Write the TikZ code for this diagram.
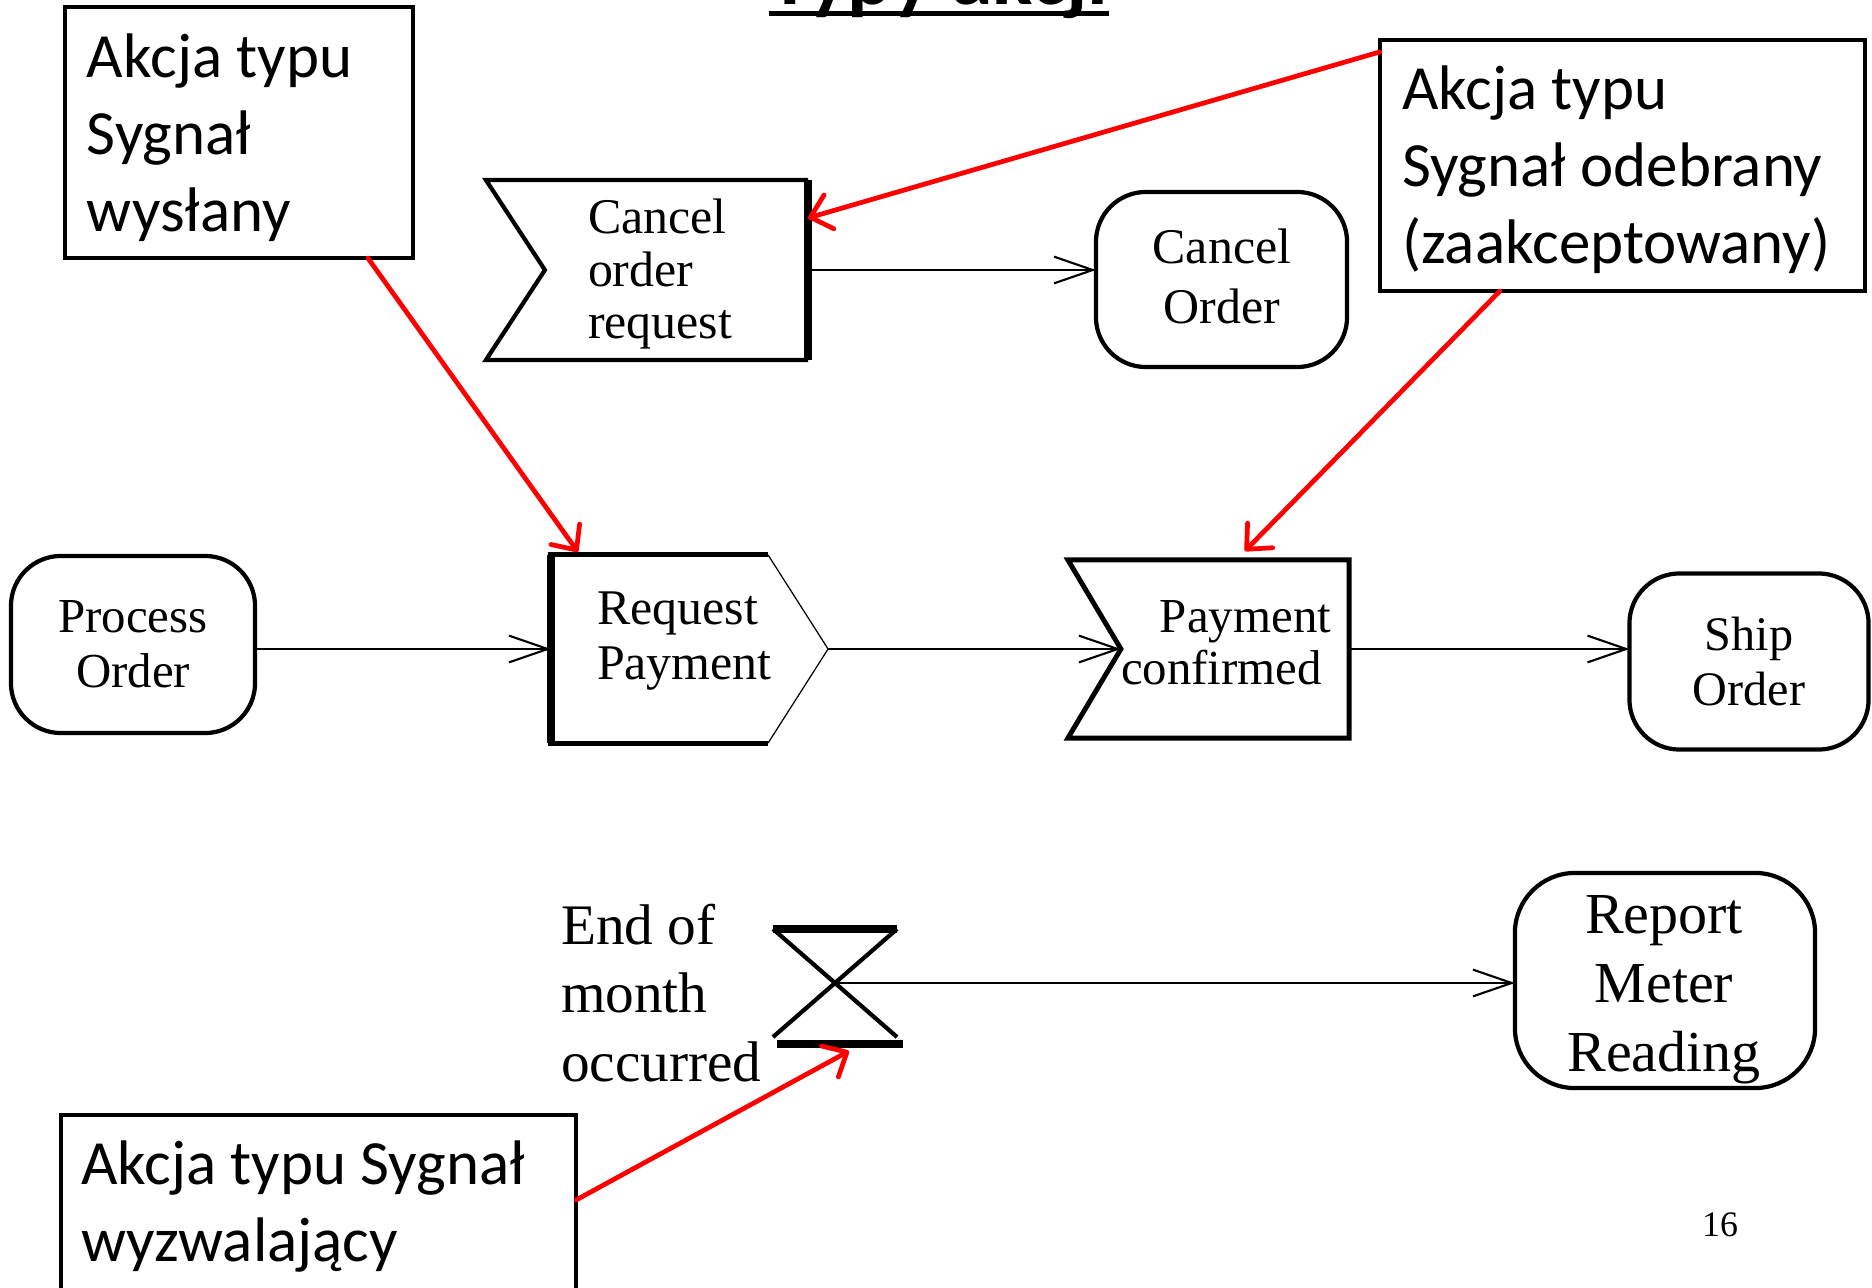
\documentclass[tikz,border=0pt]{standalone}
\usepackage{fontspec}
\setmainfont{Liberation Serif}
\newfontfamily\calib{Carlito}
\usetikzlibrary{arrows.meta,calc}
\lineskiplimit=-100pt

\begin{document}
\begin{tikzpicture}[x=0.01cm,y=-0.01cm,
  every node/.style={inner sep=0pt, outer sep=0pt},
  fs/.style 2 args={font=\fontsize{#1}{#2}\selectfont},
  act/.style={draw, line width=1.2pt, rounded corners=0.5cm, align=center},
  note/.style={draw, line width=1.3pt},
  notetext/.style={font=\calib\fontsize{17.9pt}{21.9pt}\selectfont, align=left, anchor=west},
  flow/.style={line width=0.5pt, -{Straight Barb[length=11pt,width=7.6pt,line width=0.6pt]}},
  hint/.style={draw=red, line width=1.35pt, line cap=round,
    -{Straight Barb[round,length=5.5pt,width=10pt,line width=1.35pt]}},
]
\useasboundingbox (0,0) rectangle (1872,1288);
\fill[white] (0,0) rectangle (1872,1288);

% slide title, cut by the upper edge
\begin{scope}
  \clip (0,0) rectangle (1872,1288);
  \node[font=\calib\bfseries\fontsize{23.9pt}{28pt}\selectfont, anchor=base west] (title) at (769,5) {Typy akcji};
  \draw[line width=1.42pt] ($(title.base west)+(0,9)$) -- ($(title.base east)+(0,9)$);
\end{scope}

% ---- top row: accept "Cancel order request" -> "Cancel Order"
\node[minimum width=3.22cm, minimum height=1.80cm] (cor) at (647,270) {};
\draw[line width=1.2pt] (cor.north east) -- (cor.north west) -- ($(cor.west)+(59,0)$) -- (cor.south west) -- (cor.south east);
\draw[line width=2.2pt] (cor.north east) -- (cor.south east);
\node[fs={14.2pt}{14.8pt}, align=left, anchor=west] (cortext) at (588,274) {Cancel\\order\\request};

\node[draw, line width=1.2pt, rounded corners=0.5cm, minimum width=2.51cm, minimum height=1.75cm] (co) at (1221.5,279.5) {};
\node[fs={14.2pt}{17.1pt}, align=center] (cotext) at (1222,276) {Cancel\\Order};
\draw[flow] (cor.east) -- (cor.east -| co.west);

% ---- middle row
\node[act, fs={13.9pt}{15.6pt}, minimum width=2.44cm, minimum height=1.77cm] (po) at (133,644.5) {Process\\Order};

\node[minimum width=2.77cm, minimum height=1.88cm] (rp) at (689.5,649) {};
\draw[line width=0.35pt] ($(rp.north east)+(-60,0)$) -- (rp.east) -- ($(rp.south east)+(-60,0)$);
\draw[line width=1.4pt] ($(rp.north east)+(-60,0)$) -- (rp.north west) -- (rp.south west) -- ($(rp.south east)+(-60,0)$);
\draw[line width=2.2pt] (rp.north west) -- (rp.south west);
\node[fs={14.2pt}{15.6pt}, align=left, anchor=west] (rptext) at (597,641) {Request\\Payment};

\node[minimum width=2.81cm, minimum height=1.78cm] (pc) at (1208.5,649) {};
\draw[line width=1.4pt] (pc.north west) -- (pc.north east) -- (pc.south east) -- (pc.south west) -- ($(pc.west)+(53,0)$) -- cycle;
\node[fs={13.9pt}{14.8pt}, align=right, anchor=east] (pctext) at (1331,642.8) {Payment\\confirmed\hbox to 0.09cm{}};

\node[act, fs={13.7pt}{15.4pt}, minimum width=2.39cm, minimum height=1.76cm] (so) at (1749,661.5) {Ship\\Order};

\draw[flow] (po.east |- rp.west) -- (rp.west);
\draw[flow] (rp.east) -- ($(pc.west)+(53,0)$);
\draw[flow] (pc.east) -- (pc.east -| so.west);

% ---- bottom row: time event
\node[minimum width=1.24cm, minimum height=1.08cm] (tm) at (835,983) {};
\draw[line width=1.2pt] (tm.north west) -- (tm.south east) (tm.north east) -- (tm.south west);
\draw[line width=2.4pt] (tm.north west) -- (tm.north east);
\draw[line width=2.4pt] ($(tm.south west)+(4,7)$) -- ($(tm.south east)+(6,7)$);
\node[fs={16.3pt}{19.5pt}, align=left, anchor=west] (tmtext) at (561,993) {End of\\month\\occurred};

\node[draw, line width=1.2pt, rounded corners=0.6cm, minimum width=3.00cm, minimum height=2.15cm] (rmr) at (1665,980.5) {};
\node[fs={16.5pt}{19.6pt}, align=center] (rmrtext) at (1664,990) {Report\\Meter\\Reading};
\draw[flow] (tm.center) -- (tm.center -| rmr.west);

% ---- callouts
\node[note, minimum width=3.48cm, minimum height=2.51cm] (w1) at (239,132.5) {};
\node[notetext] (w1text) at (87,137.3) {Akcja typu\\Sygnał\\wysłany};
\node[note, minimum width=4.85cm, minimum height=2.51cm] (w2) at (1622.5,165.5) {};
\node[notetext] (w2text) at (1402,169.8) {Akcja typu\\Sygnał odebrany\\(zaakceptowany)};
\node[note, minimum width=5.15cm, minimum height=1.85cm] (w3) at (318.5,1207.5) {};
\node[notetext] (w3text) at (81,1206.8) {Akcja typu Sygnał\\wyzwalający};

\draw[hint] ($(w1.south west)+(303,0)$) -- ($(rp.north west)+(27,-3)$);
\draw[hint] ($(w2.north west)+(0,12)$) -- ($(cor.north east)+(0,38)$);
\draw[hint] ($(w2.south west)+(120,0)$) -- ($(pc.north west)+(177,-9)$);
\draw[hint] ($(w3.north east)+(0,85)$) -- ($(tm.south)+(14,14)$);

% page number
\node[fs={10.2pt}{12pt}, anchor=base] (pg) at (1720,1236) {16};
\end{tikzpicture}
\end{document}
